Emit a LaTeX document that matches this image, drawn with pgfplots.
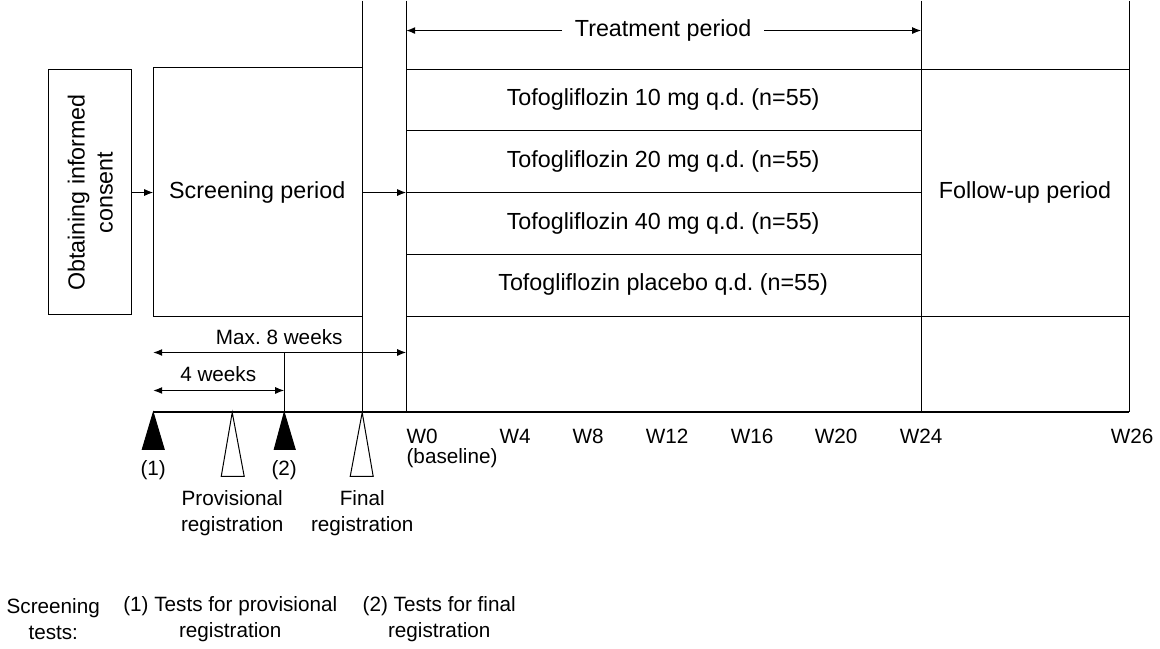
\documentclass[border=0pt]{standalone}
\usepackage{pgfplots}
\pgfplotsset{compat=1.18}
\usepackage{fontspec}
\setmainfont{Liberation Sans}
\usetikzlibrary{arrows.meta}
\frenchspacing
\newcommand\fbig{\fontsize{11.65}{14}\selectfont}
\newcommand\fsmall{\fontsize{10.35}{13}\selectfont}
\begin{document}
\begin{tikzpicture}
\begin{axis}[x=0.5pt,y=0.5pt,y dir=reverse,xmin=0,xmax=1160,ymin=0,ymax=648,
  hide axis,clip=false,scale only axis,
  ln/.style={black,line width=0.55pt,no marks},
  arr/.style={ln,-{Latex[length=4.5pt,width=3.5pt]}},
  darr/.style={ln,{Latex[length=4.5pt,width=3.5pt]}-{Latex[length=4.5pt,width=3.5pt]}}]
% boxes
\addplot[ln] coordinates {(49,69)(132,69)(132,314)(49,314)} -- cycle;
\addplot[ln] coordinates {(363,67)(154,67)(154,316)(363,316)};
% verticals
\addplot[ln] coordinates {(363,0)(363,412)};
\addplot[ln] coordinates {(407,0)(407,412)};
\addplot[ln] coordinates {(922,0)(922,412)};
\addplot[ln] coordinates {(1130,0)(1130,412)};
% horizontals
\addplot[ln] coordinates {(407,69)(1130,69)};
\addplot[ln] coordinates {(407,316)(1130,316)};
\addplot[ln] coordinates {(407,130)(922,130)};
\addplot[ln] coordinates {(407,192)(922,192)};
\addplot[ln] coordinates {(407,254)(922,254)};
% timeline
\addplot[black,line width=1pt,no marks] coordinates {(154,412)(1130,412)};
% arrows
\addplot[arr] coordinates {(132,192)(154,192)};
\addplot[arr] coordinates {(363,192)(407,192)};
\addplot[arr] coordinates {(563,30)(407,30)};
\addplot[arr] coordinates {(765,30)(922,30)};
\addplot[darr] coordinates {(154,352)(407,352)};
\addplot[darr] coordinates {(154,390)(285,390)};
\addplot[ln] coordinates {(285,352)(285,412)};
% triangles
\addplot[fill=black,draw=black,line width=0.5pt,no marks] coordinates {(154,412)(143,449)(165,449)} -- cycle;
\addplot[fill=black,draw=black,line width=0.5pt,no marks] coordinates {(285,412)(275,449)(296,449)} -- cycle;
\addplot[fill=white,draw=black,line width=0.5pt,no marks] coordinates {(233,412)(222,476)(245,476)} -- cycle;
\addplot[fill=white,draw=black,line width=0.5pt,no marks] coordinates {(363,412)(351,476)(374,476)} -- cycle;
% texts
\node[font=\fbig] at (axis cs:664,30) {Treatment period};
\node[font=\fbig] at (axis cs:664,99) {Tofogliflozin 10 mg q.d. (n=55)};
\node[font=\fbig] at (axis cs:664,161) {Tofogliflozin 20 mg q.d. (n=55)};
\node[font=\fbig] at (axis cs:664,223) {Tofogliflozin 40 mg q.d. (n=55)};
\node[font=\fbig] at (axis cs:664,284) {Tofogliflozin placebo q.d. (n=55)};
\node[font=\fbig] at (axis cs:1026,192) {Follow-up period};
\node[font=\fbig] at (axis cs:258,192) {Screening period};
\node[font=\fbig,rotate=90,align=center] at (axis cs:91,192) {Obtaining informed\\consent};
\node[font=\fsmall] at (axis cs:280,337) {Max. 8 weeks};
\node[font=\fsmall] at (axis cs:219,374) {4 weeks};
\node[font=\fsmall] at (axis cs:154,470) {(1)};
\node[font=\fsmall] at (axis cs:285,470) {(2)};
\node[font=\fsmall,align=center] at (axis cs:233,513) {Provisional\\registration};
\node[font=\fsmall,align=center] at (axis cs:363,513) {Final\\registration};
\node[font=\fsmall,anchor=west,inner sep=0pt] at (axis cs:407,436) {W0};
\node[font=\fsmall,anchor=west,inner sep=0pt] at (axis cs:407,458) {(baseline)};
\node[font=\fsmall] at (axis cs:516,436) {W4};
\node[font=\fsmall] at (axis cs:589,436) {W8};
\node[font=\fsmall] at (axis cs:668,436) {W12};
\node[font=\fsmall] at (axis cs:753,436) {W16};
\node[font=\fsmall] at (axis cs:837,436) {W20};
\node[font=\fsmall] at (axis cs:922,436) {W24};
\node[font=\fsmall] at (axis cs:1133,436) {W26};
\node[font=\fsmall,align=center] at (axis cs:54,619) {Screening\\tests:};
\node[font=\fsmall,align=center] at (axis cs:231,619) {(1) Tests for provisional\\registration};
\node[font=\fsmall,align=center] at (axis cs:440,619) {(2) Tests for final\\registration};
\end{axis}
\end{tikzpicture}
\end{document}
